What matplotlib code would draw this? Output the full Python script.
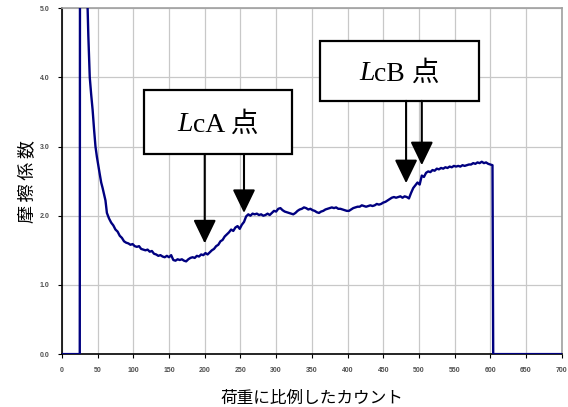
import matplotlib
matplotlib.use("Agg")
import matplotlib.pyplot as plt
from matplotlib.patches import Rectangle
from matplotlib.transforms import offset_copy

# load-proportional count and friction coefficient
count = [0, 25, 25.5, 36, 37, 39, 41, 43, 45, 47, 49, 51, 53, 55, 57, 59, 61, 62,
         63, 66, 69, 72, 75, 78, 81, 84, 87, 90, 93, 96, 99, 102, 105, 108, 111, 114,
         117, 120, 123, 126, 129, 132, 135, 138, 141, 144, 147, 150, 153, 156, 159, 162,
         165, 168, 171, 174, 177, 180, 183, 186, 189, 192, 195, 198, 201, 204, 207, 210,
         213, 216, 219, 222, 225, 228, 231, 234, 237, 240, 243, 246, 249, 252, 255, 258,
         261, 264, 267, 270, 273, 276, 279, 282, 285, 288, 291, 294, 297, 300, 303, 306,
         309, 312, 315, 318, 321, 324, 327, 330, 333, 336, 339, 342, 345, 348, 351, 354,
         357, 360, 363, 366, 369, 372, 375, 378, 381, 384, 387, 390, 393, 396, 399, 402,
         405, 408, 411, 414, 417, 420, 423, 426, 429, 432, 435, 438, 441, 444, 447, 450,
         453, 456, 459, 462, 465, 468, 471, 474, 477, 480, 483, 486, 489, 492, 495, 498,
         501, 504, 507, 510, 513, 516, 519, 522, 525, 528, 531, 534, 537, 540, 543, 546,
         549, 552, 555, 558, 561, 564, 567, 570, 573, 576, 579, 582, 585, 588, 591, 594,
         597, 600, 603, 604, 700]
friction = [0.0, 0.0, 9.0, 5.0, 4.6, 4.0, 3.75, 3.53, 3.25, 3.0, 2.85, 2.72, 2.6, 2.48, 2.4, 2.31, 2.22, 2.13,
            2.04, 1.96, 1.9, 1.86, 1.8, 1.77, 1.71, 1.68, 1.63, 1.61, 1.6, 1.58, 1.59, 1.56, 1.55, 1.56, 1.52, 1.51,
            1.5, 1.51, 1.48, 1.49, 1.45, 1.44, 1.42, 1.43, 1.41, 1.4, 1.42, 1.4, 1.43, 1.36, 1.35, 1.37,
            1.36, 1.37, 1.35, 1.34, 1.37, 1.39, 1.4, 1.39, 1.42, 1.41, 1.44, 1.43, 1.46, 1.44, 1.47, 1.5,
            1.52, 1.56, 1.58, 1.63, 1.65, 1.7, 1.73, 1.76, 1.8, 1.78, 1.83, 1.85, 1.81, 1.87, 1.91, 1.99,
            2.02, 2.0, 2.03, 2.02, 2.03, 2.01, 2.02, 2.0, 2.01, 2.03, 2.01, 2.04, 2.07, 2.06, 2.1, 2.11,
            2.08, 2.06, 2.05, 2.04, 2.03, 2.02, 2.04, 2.07, 2.09, 2.1, 2.12, 2.11, 2.09, 2.1, 2.08, 2.07,
            2.05, 2.04, 2.06, 2.07, 2.09, 2.1, 2.11, 2.12, 2.11, 2.12, 2.1, 2.1, 2.09, 2.08, 2.07, 2.07,
            2.09, 2.11, 2.12, 2.13, 2.13, 2.15, 2.14, 2.13, 2.14, 2.15, 2.14, 2.15, 2.17, 2.16, 2.17, 2.19,
            2.2, 2.22, 2.24, 2.26, 2.27, 2.26, 2.27, 2.28, 2.26, 2.28, 2.27, 2.25, 2.33, 2.4, 2.44, 2.48,
            2.45, 2.58, 2.56, 2.62, 2.64, 2.63, 2.66, 2.65, 2.68, 2.67, 2.69, 2.68, 2.7, 2.69, 2.71, 2.7,
            2.72, 2.71, 2.72, 2.71, 2.73, 2.72, 2.73, 2.74, 2.74, 2.76, 2.75, 2.77, 2.76, 2.78, 2.76, 2.77,
            2.75, 2.74, 2.73, 0.0, 0.0]

x_ticks = list(range(0, 701, 50))
y_ticks = [0.0, 1.0, 2.0, 3.0, 4.0, 5.0]

# callouts: italic prefix, rest of label, box (x0, y0, x1, y1), arrows (x, y_start, y_tip)
callouts = [
    ("L", "cA 点", (115, 2.89, 322, 3.82), [(200, 2.89, 1.60), (255, 2.89, 2.04)]),
    ("L", "cB 点", (361, 3.66, 584, 4.52), [(482, 3.66, 2.47), (504, 3.66, 2.73)]),
]

fig = plt.figure(figsize=(5.68, 4.07), dpi=100)
ax = fig.add_axes([0.109, 0.130, 0.880, 0.850])

ax.plot(count, friction, color='#000080', lw=1.7, zorder=3)

ax.set_xlim(0, 700)
ax.set_ylim(0, 5.0)
ax.set_xticks(x_ticks)
ax.set_xticklabels([str(v) for v in x_ticks])
ax.set_yticks(y_ticks)
ax.set_yticklabels([f"{v:.1f}" for v in y_ticks])
ax.grid(True, color='#c8c8c8', lw=0.9, zorder=0)
ax.set_axisbelow(True)

for lab in ax.get_xticklabels() + ax.get_yticklabels():
    lab.set_fontfamily('Liberation Sans')
    lab.set_fontsize(5)
    lab.set_fontweight('bold')
    lab.set_color('#505050')
ax.tick_params(axis='both', length=3, width=0.8, color='black', pad=6)

for side in ('left', 'bottom'):
    ax.spines[side].set_color('black')
    ax.spines[side].set_linewidth(1.2)
for side in ('top', 'right'):
    ax.spines[side].set_color('#a0a0a0')
    ax.spines[side].set_linewidth(1.2)

ax.set_xlabel("荷重に比例したカウント", fontsize=12, family=['Noto Sans CJK JP'], labelpad=12)
ax.set_ylabel("摩\u2009擦\u2009係\u2009数", fontsize=13,
              family=['Noto Sans CJK JP', 'DejaVu Sans'], labelpad=2)

fig.canvas.draw()
renderer = fig.canvas.get_renderer()

for prefix, rest, (x0, y0, x1, y1), arrows in callouts:
    ax.add_patch(Rectangle((x0, y0), x1 - x0, y1 - y0, facecolor='white',
                           edgecolor='black', lw=1.6, zorder=5))
    cx, cy = (x0 + x1) / 2, (y0 + y1) / 2
    t1 = ax.text(cx, cy, prefix, ha='left', va='center', fontsize=20,
                 family='Liberation Serif', style='italic', zorder=6)
    t2 = ax.text(cx, cy, rest, ha='left', va='center', fontsize=20,
                 family=['Liberation Serif', 'Noto Sans CJK JP'], zorder=6)
    w1 = t1.get_window_extent(renderer).width
    w2 = t2.get_window_extent(renderer).width
    total = (w1 + w2) * 72 / fig.dpi
    t1.set_transform(offset_copy(ax.transData, fig=fig, x=-total / 2, y=-2, units='points'))
    t2.set_transform(offset_copy(ax.transData, fig=fig,
                                 x=-total / 2 + w1 * 72 / fig.dpi, y=-2, units='points'))
    for ax_x, ys, yt in arrows:
        ax.annotate('', xy=(ax_x, yt), xytext=(ax_x, ys),
                    arrowprops=dict(arrowstyle='-|>,head_length=1.45,head_width=0.7',
                                    mutation_scale=10, lw=1.5, color='black',
                                    shrinkA=0, shrinkB=0), zorder=6)

fig.savefig("out.png", dpi=100)
